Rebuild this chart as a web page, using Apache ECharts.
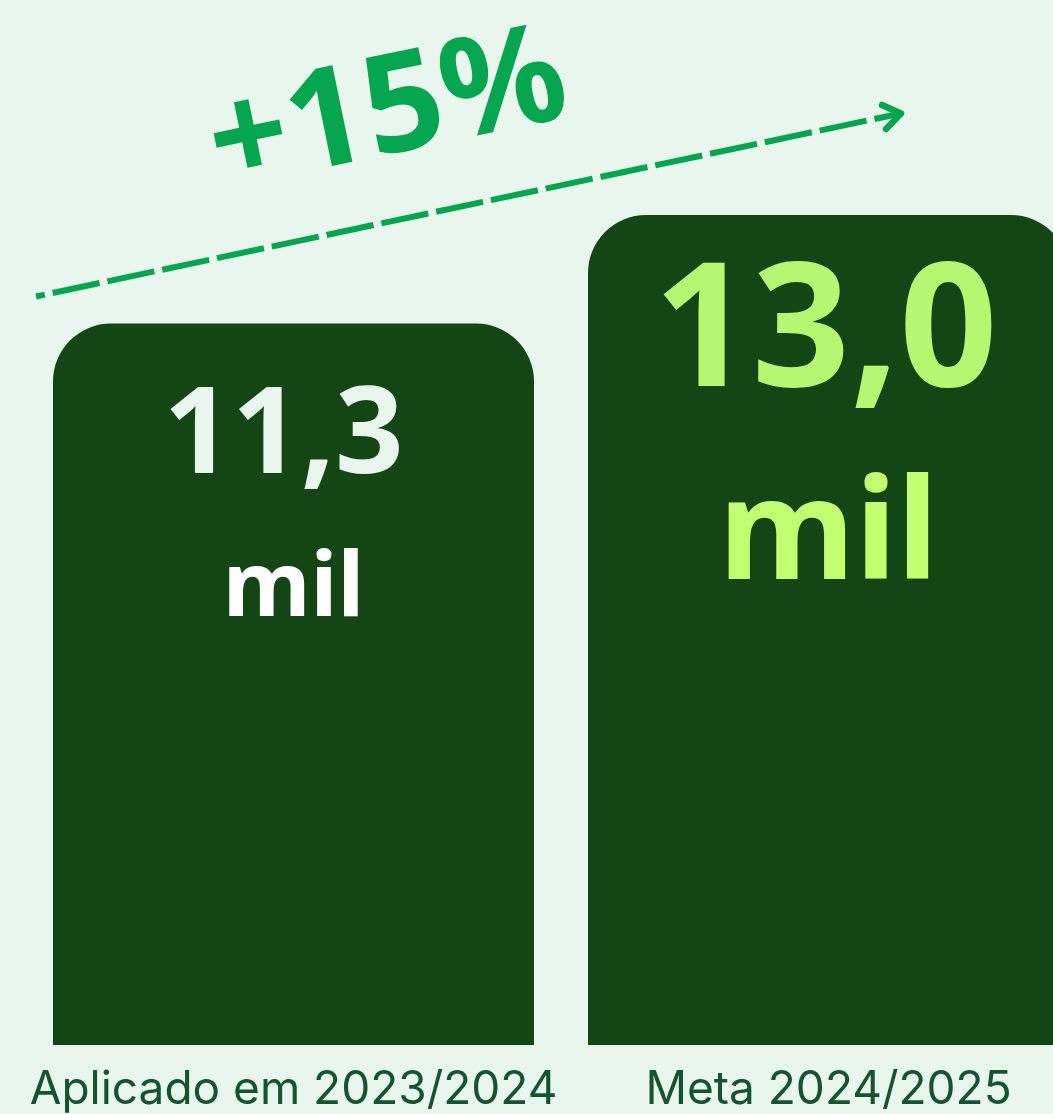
<!DOCTYPE html>
<html>
<head>
<meta charset="utf-8">
<script src="https://cdn.jsdelivr.net/npm/echarts@6/dist/echarts.min.js"></script>
<style>
html,body{margin:0;padding:0;background:#e8f6ed;}
#chart{width:1053px;height:1114px;}
</style>
</head>
<body>
<div id="chart"></div>
<script>
const categories = ['Aplicado em 2023/2024', 'Meta 2024/2025'];
const values = [11.3, 13.0];
const valueLabels = ['11,3', '13,0'];
const unitLabel = 'mil';
const growthLabel = '+15%';

const chart = echarts.init(document.getElementById('chart'));

const labelStyles = [
  {distance: 39, num: {fontSize: 120, color: '#e8f6ed', lh: 152, padR: 20}, unit: {fontSize: 90, color: '#ffffff', lh: 152}},
  {distance: 21, num: {fontSize: 172, color: '#b6f772', lh: 202, padR: 6}, unit: {fontSize: 140, color: '#c1ff70', lh: 202}}
];

const data = values.map((v, i) => {
  const s = labelStyles[i];
  return {
    value: v,
    label: {
      show: true,
      position: 'insideTop',
      distance: s.distance,
      formatter: '{n|' + valueLabels[i] + '}\n{u|' + unitLabel + '}',
      rich: {
        n: {fontFamily: 'Noto Sans', fontWeight: 'bold', fontSize: s.num.fontSize, color: s.num.color, lineHeight: s.num.lh, align: 'center', padding: [0, s.num.padR, 0, 0]},
        u: {fontFamily: 'Noto Sans', fontWeight: 'bold', fontSize: s.unit.fontSize, color: s.unit.color, lineHeight: s.unit.lh, align: 'center'}
      }
    }
  };
});

chart.setOption({
  backgroundColor: '#e8f6ed',
  animation: false,
  grid: {left: 26, width: 1070, top: 215, bottom: 69, outerBoundsMode: 'none', containLabel: false},
  xAxis: {
    type: 'category',
    data: categories,
    axisLine: {show: false},
    axisTick: {show: false},
    axisLabel: {
      color: '#145530',
      fontFamily: 'Inter',
      fontSize: 46,
      margin: 22,
      interval: 0,
      hideOverlap: false
    }
  },
  yAxis: {type: 'value', min: 0, max: 13, show: false},
  series: [{
    type: 'bar',
    data: data,
    barWidth: 481,
    itemStyle: {color: '#144515', borderRadius: [58, 58, 0, 0]}
  }],
  graphic: [
    {
      type: 'line',
      shape: {x1: 36, y1: 296.5, x2: 898, y2: 114},
      style: {stroke: '#06a54f', lineWidth: 6, lineDash: [48, 8], lineDashOffset: 39, lineCap: 'butt'}
    },
    {
      type: 'polyline',
      shape: {points: [[882, 105], [901, 113.5], [886, 129]]},
      style: {stroke: '#06a54f', fill: null, lineWidth: 6.5, lineCap: 'round', lineJoin: 'round'}
    },
    {
      type: 'text',
      x: 388, y: 114,
      rotation: 0.205,
      style: {
        text: growthLabel,
        font: 'bold 138px "Noto Sans"',
        fill: '#06a54f',
        align: 'center',
        verticalAlign: 'middle'
      }
    }
  ]
});
</script>
</body>
</html>
